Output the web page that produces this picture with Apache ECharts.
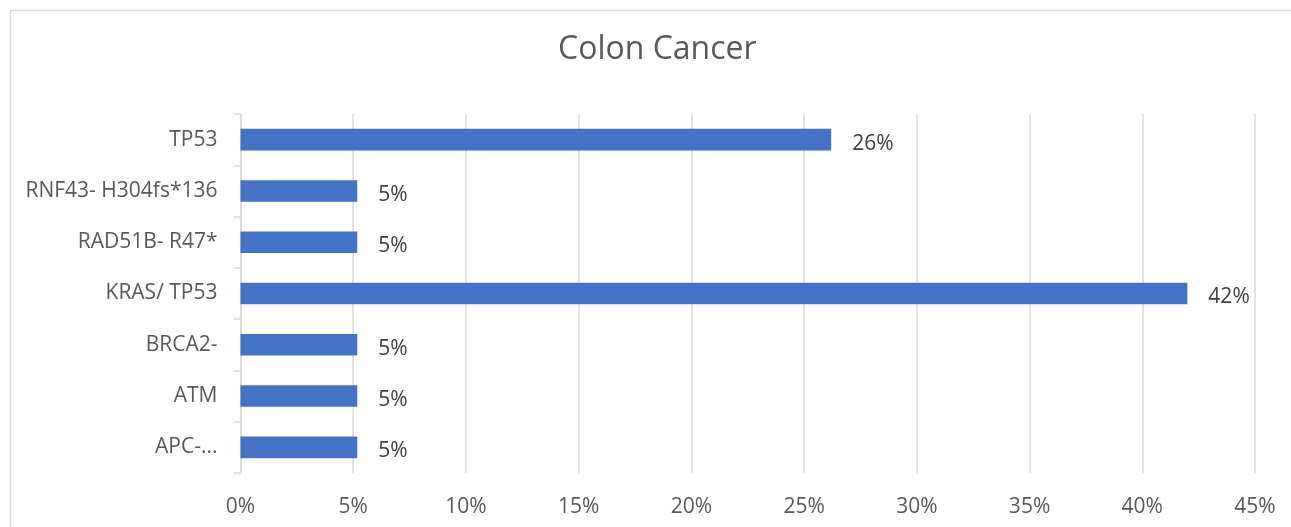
<!DOCTYPE html>
<html>
<head>
<meta charset="utf-8">
<script src="https://cdn.jsdelivr.net/npm/echarts@6/dist/echarts.min.js"></script>
<style>
html,body{margin:0;padding:0;background:#fff;}
#chart{width:1291px;height:527px;}
</style>
</head>
<body>
<div id="chart"></div>
<script>
// Data (bottom to top as drawn by ECharts category axis)
const categories = ['APC-...', 'ATM', 'BRCA2-', 'KRAS/ TP53', 'RAD51B- R47*', 'RNF43- H304fs*136', 'TP53'];
const values = [5.18, 5.18, 5.18, 42.0, 5.18, 5.18, 26.2];
const xTicks = [0, 5, 10, 15, 20, 25, 30, 35, 40, 45];
const titleText = 'Colon Cancer';

const FONT = '"Open Sans", "Noto Sans", sans-serif';
const chart = echarts.init(document.getElementById('chart'), null, {renderer: 'canvas'});
chart.setOption({
  animation: false,
  backgroundColor: '#ffffff',
  title: {
    text: titleText,
    left: 553,
    top: 29,
    textStyle: {fontFamily: FONT, fontSize: 32, fontWeight: 'normal', color: '#595959'}
  },
  graphic: [{
    type: 'rect',
    shape: {x: 10.5, y: 10.5, width: 1400, height: 700},
    style: {fill: 'none', stroke: '#d9d9d9', lineWidth: 1.5},
    silent: true,
    z: -1
  }],
  grid: {left: 240.5, right: 36, top: 114, bottom: 54, containLabel: false},
  xAxis: {
    type: 'value',
    min: xTicks[0],
    max: xTicks[xTicks.length - 1],
    interval: 5,
    axisLine: {show: false},
    axisTick: {show: false},
    splitLine: {show: true, lineStyle: {color: '#d9d9d9', width: 1.5}},
    axisLabel: {
      formatter: v => v + '%',
      fontFamily: FONT, fontSize: 21, color: '#595959', margin: 24
    }
  },
  yAxis: {
    type: 'category',
    data: categories,
    axisLine: {show: true, lineStyle: {color: '#d9d9d9', width: 1.5}},
    axisTick: {show: true, length: 7, lineStyle: {color: '#d9d9d9', width: 1.5}},
    axisLabel: {fontFamily: FONT, fontSize: 21, color: '#595959', margin: 23, padding: [8, 0, 0, 0]}
  },
  series: [{
    type: 'bar',
    data: values,
    barCategoryGap: '58%',
    itemStyle: {color: '#4472C4'},
    label: {
      show: true,
      position: 'right',
      distance: 21,
      offset: [0, 4],
      formatter: p => Math.round(p.value) + '%',
      fontFamily: FONT, fontSize: 21, color: '#404040'
    }
  }]
});
</script>
</body>
</html>
